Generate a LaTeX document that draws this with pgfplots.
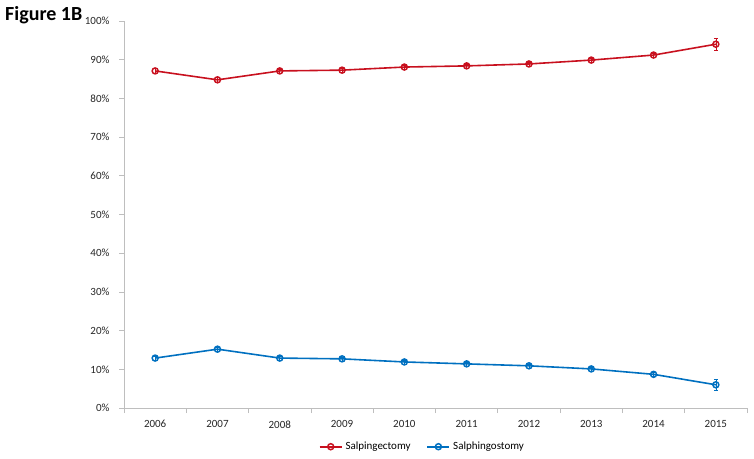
\documentclass[border=0pt]{standalone}
\usepackage{pgfplots}
\pgfplotsset{compat=1.18}
\usepackage{fontspec}
\setmainfont{Carlito}
\definecolor{sred}{RGB}{200,16,30}
\definecolor{sblue}{RGB}{0,112,192}
\definecolor{axgray}{RGB}{190,190,190}
\begin{document}
\begin{tikzpicture}
\useasboundingbox (0,0) rectangle (754pt,458pt);
\node[anchor=north west,inner sep=0pt,font=\fontsize{20}{24}\selectfont\bfseries] at (5pt,452pt) {Figure 1B};
\begin{axis}[
  at={(124pt,50pt)}, anchor=south west,
  scale only axis, width=623pt, height=387pt,
  xmin=-0.5, xmax=9.5, ymin=0, ymax=100,
  axis lines=left, axis line style={axgray, line width=1pt, -},
  xtick={0,...,9},
  xticklabels={2006,2007,2008,2009,2010,2011,2012,2013,2014,2015},
  major x tick style={draw=none},
  minor xtick={-0.5,0.5,...,9.5},
  minor tick length=5pt,
  minor x tick style={axgray, line width=0.8pt},
  ytick={0,10,...,100},
  yticklabel={\pgfmathprintnumber{\tick}\%},
  major tick length=5pt,
  y tick style={axgray, line width=0.8pt},
  tick align=outside,
  /pgf/number format/assume math mode=true,
  ticklabel style={font=\fontsize{11}{13}\selectfont, text=black!85},
  xticklabel style={yshift=-4pt},
  yticklabel style={xshift=-6pt},
  legend style={at={(0.479,-0.1)}, anchor=center, draw=none, legend columns=2,
    font=\fontsize{11}{13}\selectfont, /tikz/every even column/.append style={column sep=14pt},
    /tikz/every odd column/.append style={column sep=1pt}},
  legend image code/.code={
    \draw[#1, mark repeat=2, mark phase=2] plot coordinates {(0pt,0pt) (11pt,0pt) (22pt,0pt)};},
  legend cell align=left,
  clip=false,
]
\addplot[sred, line width=1.6pt, mark=o, mark size=3pt, mark options={line width=1.5pt, fill=white},
  error bars/.cd, y dir=both, y explicit, error bar style={sred, line width=0.6pt}, error mark options={rotate=90, mark size=2pt, sred}]
  coordinates {
  (0,87.1) +- (0,0.6)
  (1,84.8) +- (0,0.6)
  (2,87.1) +- (0,0.5)
  (3,87.3) +- (0,0.5)
  (4,88.1) +- (0,0.5)
  (5,88.4) +- (0,0.5)
  (6,88.9) +- (0,0.5)
  (7,89.9) +- (0,0.5)
  (8,91.2) +- (0,0.6)
  (9,94.0) +- (0,1.5)
};
\addlegendentry{Salpingectomy}
\addplot[sblue, line width=1.6pt, mark=o, mark size=3pt, mark options={line width=1.5pt, fill=white},
  error bars/.cd, y dir=both, y explicit, error bar style={sblue, line width=0.6pt}, error mark options={rotate=90, mark size=2pt, sblue}]
  coordinates {
  (0,12.9) +- (0,0.6)
  (1,15.2) +- (0,0.6)
  (2,12.9) +- (0,0.5)
  (3,12.7) +- (0,0.5)
  (4,11.9) +- (0,0.5)
  (5,11.4) +- (0,0.5)
  (6,10.9) +- (0,0.5)
  (7,10.1) +- (0,0.5)
  (8,8.7) +- (0,0.6)
  (9,6.0) +- (0,1.5)
};
\addlegendentry{Salphingostomy}
\end{axis}
\end{tikzpicture}
\end{document}
